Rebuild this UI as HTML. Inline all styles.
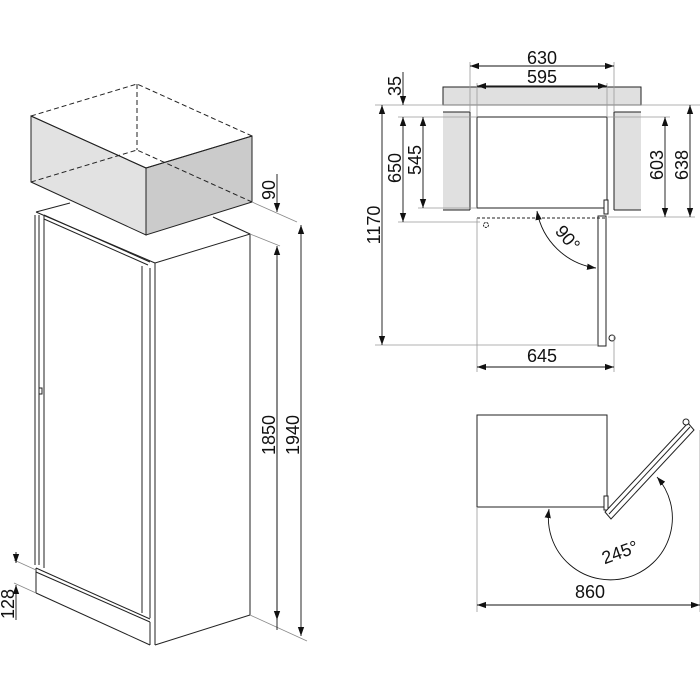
<!DOCTYPE html>
<html><head><meta charset="utf-8"><style>
html,body{margin:0;padding:0;background:#fff;width:700px;height:700px;overflow:hidden}
text{font-family:"Liberation Sans",sans-serif;font-size:18px;fill:#111;text-anchor:middle}
</style></head><body>
<svg width="700" height="700" viewBox="0 0 700 700" xmlns="http://www.w3.org/2000/svg">
<defs>
<marker id="a" viewBox="0 0 10 10" refX="10" refY="5" markerWidth="9" markerHeight="9" orient="auto-start-reverse" markerUnits="userSpaceOnUse"><path d="M0,1.5 L10,5 L0,8.5z" fill="#111"/></marker>
</defs>
<g stroke="#222" stroke-width="1" fill="none">
<polygon points="31,116 146,168 146,235 31,182" fill="#e2e2e2"/>
<polygon points="146,168 252,136 252,202 146,235" fill="#cbcbcb"/>
<g stroke-dasharray="5,3">
<polyline points="31,116 137,84 252,136"/>
<line x1="137" y1="84" x2="137" y2="150"/>
<polyline points="31,182 137,150 252,202"/>
</g>
<line x1="146" y1="168" x2="31" y2="116"/>
<line x1="146" y1="168" x2="252" y2="136"/>
<line x1="36" y1="212" x2="70" y2="203"/>
<line x1="213" y1="217" x2="250" y2="234"/>
<polyline points="155,263 250,234 250,615 155,645"/>
<line x1="155" y1="263" x2="155" y2="645"/>
<line x1="150" y1="268" x2="150" y2="618"/>
<line x1="142" y1="266" x2="142" y2="613"/>
<line x1="36" y1="212" x2="155" y2="263"/>
<line x1="44" y1="215" x2="150" y2="262"/>
<line x1="44" y1="219" x2="148" y2="265"/>
<line x1="35" y1="215" x2="35" y2="565"/>
<line x1="39" y1="215" x2="39" y2="565"/>
<line x1="44" y1="215" x2="44" y2="568"/>
<rect x="39" y="388" width="3" height="6"/>
<line x1="36" y1="568" x2="36" y2="593"/>
<line x1="36" y1="568" x2="150" y2="619"/>
<line x1="36" y1="572" x2="150" y2="622"/>
<line x1="36" y1="593" x2="150" y2="645"/>
<line x1="150" y1="622" x2="150" y2="645"/>
</g>
<g stroke="#888" stroke-width="0.8">
<line x1="252" y1="202" x2="297" y2="222"/>
<line x1="250" y1="234" x2="280" y2="246"/>
<line x1="250" y1="615" x2="307" y2="641"/>
<line x1="14" y1="560" x2="36" y2="570"/>
<line x1="14" y1="583" x2="36" y2="593"/>
</g>
<g stroke="#111" stroke-width="0.9" fill="none">
<line x1="277" y1="174" x2="277" y2="212" marker-end="url(#a)"/>
<line x1="277" y1="630" x2="277" y2="246" marker-end="url(#a)"/>
<line x1="277" y1="260" x2="277" y2="620" marker-end="url(#a)"/>
<line x1="301" y1="290" x2="301" y2="225" marker-end="url(#a)"/>
<line x1="301" y1="290" x2="301" y2="636" marker-end="url(#a)"/>
<line x1="16" y1="552" x2="16" y2="563" marker-end="url(#a)"/>
<line x1="16" y1="620" x2="16" y2="585" marker-end="url(#a)"/>
</g>
<text transform="translate(275,190) rotate(-90)">90</text>
<text transform="translate(275,435) rotate(-90)">1850</text>
<text transform="translate(299,435) rotate(-90)">1940</text>
<text transform="translate(14,604) rotate(-90)">128</text>

<g stroke="#222" stroke-width="1">
<rect x="443" y="87" width="198" height="18" fill="#e0e0e0"/>
<rect x="443" y="112" width="27" height="98" fill="#e0e0e0" stroke="none"/>
<rect x="614" y="112" width="27" height="98" fill="#e0e0e0" stroke="none"/>
<line x1="443" y1="112" x2="470" y2="112"/><line x1="443" y1="210" x2="470" y2="210"/><line x1="470" y1="112" x2="470" y2="210"/>
<line x1="614" y1="112" x2="641" y2="112"/><line x1="614" y1="210" x2="641" y2="210"/><line x1="614" y1="112" x2="614" y2="210"/>
<rect x="477" y="117" width="130" height="91" fill="none"/>
<rect x="604" y="200" width="4" height="14" fill="#fff"/>
<rect x="598" y="216" width="8" height="130" fill="#fff"/>
<circle cx="612" cy="338" r="3" fill="#fff"/>
<line x1="477" y1="218" x2="606" y2="218" stroke-dasharray="3,2"/>
<circle cx="486" cy="225" r="2.5" fill="none" stroke-dasharray="2,1"/>
</g>
<g stroke="#999" stroke-width="0.8">
<line x1="470" y1="62" x2="470" y2="112"/><line x1="614" y1="62" x2="614" y2="112"/>
<line x1="477" y1="83" x2="477" y2="117"/><line x1="607" y1="83" x2="607" y2="117"/>
<line x1="375" y1="105" x2="700" y2="105"/>
<line x1="398" y1="117" x2="477" y2="117"/><line x1="418" y1="208" x2="477" y2="208"/>
<line x1="398" y1="222" x2="480" y2="222"/>
<line x1="607" y1="117" x2="670" y2="117"/><line x1="608" y1="217" x2="695" y2="217"/>
<line x1="375" y1="345" x2="598" y2="345"/>
<line x1="477" y1="218" x2="477" y2="372"/><line x1="614" y1="335" x2="614" y2="372"/>
</g>
<g stroke="#111" stroke-width="0.9" fill="none">
<line x1="520" y1="66" x2="470" y2="66" marker-end="url(#a)"/><line x1="520" y1="66" x2="614" y2="66" marker-end="url(#a)"/>
<line x1="530" y1="86" x2="477" y2="86" marker-end="url(#a)"/><line x1="530" y1="86" x2="607" y2="86" marker-end="url(#a)"/>
<line x1="403" y1="72" x2="403" y2="105" marker-end="url(#a)"/>
<line x1="403" y1="170" x2="403" y2="117" marker-end="url(#a)"/><line x1="403" y1="170" x2="403" y2="222" marker-end="url(#a)"/>
<line x1="423" y1="160" x2="423" y2="117" marker-end="url(#a)"/><line x1="423" y1="160" x2="423" y2="208" marker-end="url(#a)"/>
<line x1="382" y1="220" x2="382" y2="105" marker-end="url(#a)"/><line x1="382" y1="220" x2="382" y2="345" marker-end="url(#a)"/>
<line x1="665" y1="160" x2="665" y2="117" marker-end="url(#a)"/><line x1="665" y1="160" x2="665" y2="217" marker-end="url(#a)"/>
<line x1="690" y1="160" x2="690" y2="105" marker-end="url(#a)"/><line x1="690" y1="160" x2="690" y2="217" marker-end="url(#a)"/>
<line x1="540" y1="367" x2="477" y2="367" marker-end="url(#a)"/><line x1="540" y1="367" x2="614" y2="367" marker-end="url(#a)"/>
<path d="M537,211 A70,70 0 0 0 596,268" marker-start="url(#a)" marker-end="url(#a)"/>
</g>
<text x="542" y="64">630</text>
<text x="542" y="83">595</text>
<text transform="translate(401,86) rotate(-90)">35</text>
<text transform="translate(401,168) rotate(-90)">650</text>
<text transform="translate(421,160) rotate(-90)">545</text>
<text transform="translate(380,225) rotate(-90)">1170</text>
<text transform="translate(663,165) rotate(-90)">603</text>
<text transform="translate(688,165) rotate(-90)">638</text>
<text x="542" y="362">645</text>
<text transform="translate(563,242) rotate(50)">90°</text>

<g stroke="#222" stroke-width="1" fill="#fff">
<rect x="477" y="415" width="130" height="92"/>
<rect x="604" y="496" width="4" height="14"/>
<polygon points="605,512 611,519 694,430 688,423"/>
<line x1="609" y1="514" x2="690" y2="427"/>
<circle cx="686" cy="422" r="3"/>
</g>
<g stroke="#999" stroke-width="0.8">
<line x1="477" y1="507" x2="477" y2="612"/><line x1="700" y1="430" x2="700" y2="612"/>
</g>
<g stroke="#111" stroke-width="0.9" fill="none">
<path d="M549,509 A62,62 0 1 0 657,477" marker-start="url(#a)" marker-end="url(#a)"/>
<line x1="590" y1="605" x2="477" y2="605" marker-end="url(#a)"/><line x1="590" y1="605" x2="700" y2="605" marker-end="url(#a)"/>
</g>
<text transform="translate(622,558) rotate(-20)">245°</text>
<text x="590" y="598">860</text>
</svg>
</body></html>
